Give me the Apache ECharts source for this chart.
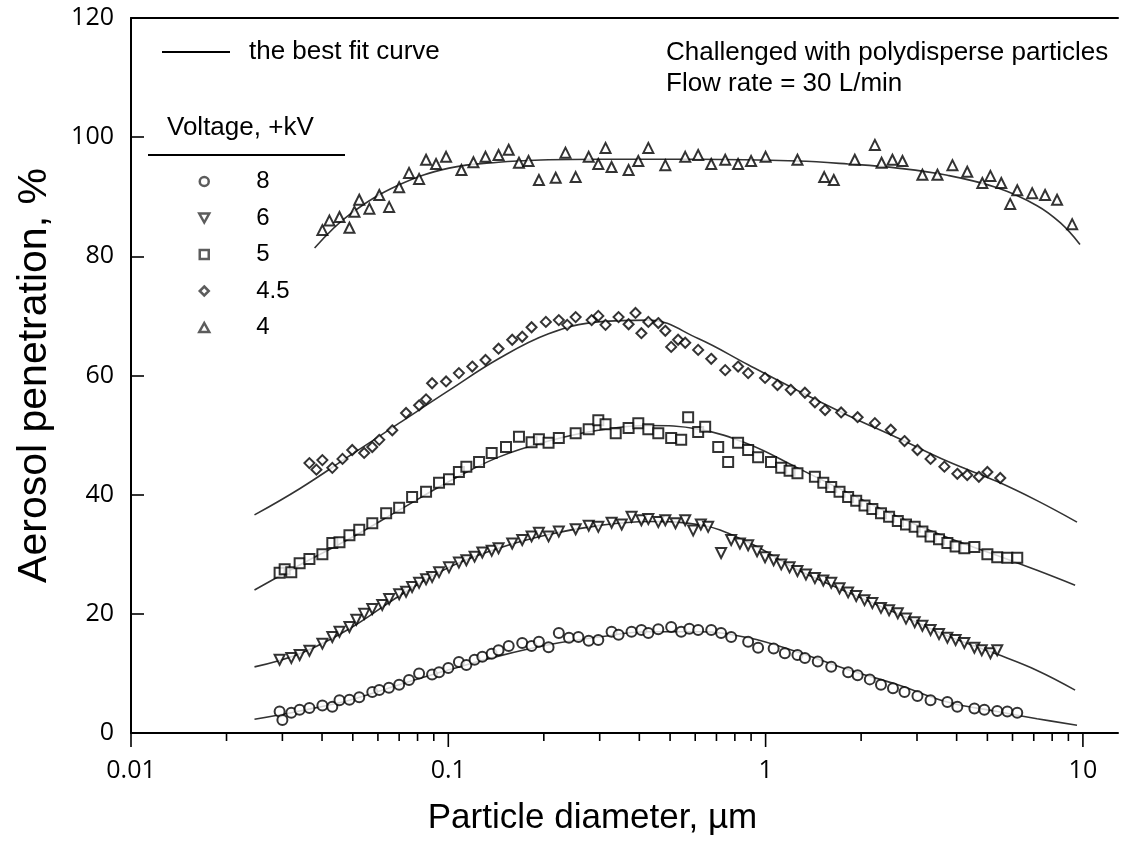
<!DOCTYPE html>
<html>
<head>
<meta charset="utf-8">
<script src="https://cdn.jsdelivr.net/npm/echarts@6/dist/echarts.min.js"></script>
<style>
html,body{margin:0;padding:0;background:#fff;overflow:hidden;}
#chart{width:1121px;height:861px;}
</style>
</head>
<body>
<div id="chart"></div>
<script>
// ---- data (particle diameter in µm, penetration in %) ----
const legendNames = ['8', '6', '5', '4.5', '4'];
const xTickLabels = ['0.01', '0.1', '1', '10'];
const xMajorTicks = [0.01, 0.1, 1, 10];
const xMinorTicks = [0.02,0.03,0.04,0.05,0.06,0.07,0.08,0.09,
                     0.2,0.3,0.4,0.5,0.6,0.7,0.8,0.9,
                     2,3,4,5,6,7,8,9];

const kv8 = [[0.0294,3.6],[0.0300,2.2],[0.0320,3.4],[0.0340,3.9],[0.0365,4.2],[0.0401,4.6],[0.0431,4.4],[0.0454,5.5],[0.0488,5.6],[0.0524,6.0],[0.0576,6.9],[0.0606,7.2],[0.0650,7.6],[0.0700,8.1],[0.0752,8.9],[0.0809,10.0],[0.0889,9.8],[0.0935,10.2],[0.100,10.9],[0.108,11.9],[0.114,11.4],[0.121,12.3],[0.128,12.8],[0.137,13.3],[0.144,13.9],[0.155,14.6],[0.171,15.1],[0.183,14.6],[0.193,15.3],[0.207,14.4],[0.223,16.8],[0.240,16.0],[0.257,16.1],[0.277,15.5],[0.297,15.6],[0.327,17.0],[0.344,16.5],[0.378,17.0],[0.406,17.3],[0.427,16.8],[0.459,17.4],[0.504,17.8],[0.542,17.0],[0.575,17.5],[0.613,17.3],[0.674,17.3],[0.724,16.8],[0.779,16.1],[0.881,15.3],[0.947,14.3],[1.06,14.2],[1.15,13.4],[1.26,13.1],[1.33,12.6],[1.46,12.0],[1.61,11.1],[1.82,10.2],[1.95,9.7],[2.13,9.0],[2.31,8.1],[2.52,7.5],[2.74,6.9],[3.01,6.2],[3.31,5.5],[3.74,5.2],[4.02,4.4],[4.55,4.1],[4.89,3.9],[5.37,3.7],[5.78,3.6],[6.21,3.4]];
const fit8 = [[0.0245,2.3],[0.034,3.7],[0.0488,5.5],[0.070,8.1],[0.1005,10.6],[0.144,12.9],[0.207,14.8],[0.297,16.1],[0.427,17.0],[0.613,17.0],[0.881,16.0],[1.26,13.6],[1.82,10.6],[2.61,8.1],[3.74,5.2],[5.37,3.6],[7.17,2.4],[9.58,1.3]];

const kv6 = [[0.0294,12.3],[0.0320,12.6],[0.034,13.1],[0.0365,13.8],[0.0401,15.0],[0.0431,16.1],[0.0454,17.0],[0.0488,17.8],[0.0513,19.0],[0.0543,20.0],[0.0576,20.8],[0.0619,21.5],[0.0651,22.5],[0.070,23.3],[0.0736,23.7],[0.0769,24.5],[0.0809,25.2],[0.0851,25.8],[0.0889,26.2],[0.0935,27.0],[0.1005,27.8],[0.108,28.6],[0.114,29.0],[0.121,29.6],[0.128,30.3],[0.137,30.6],[0.144,31.0],[0.159,31.8],[0.171,32.4],[0.183,33.0],[0.193,33.6],[0.207,33.0],[0.223,33.8],[0.252,34.2],[0.277,34.8],[0.297,34.6],[0.327,35.3],[0.352,35.0],[0.378,36.3],[0.406,35.7],[0.427,35.9],[0.459,35.4],[0.483,35.7],[0.520,35.2],[0.558,35.7],[0.591,34.0],[0.625,35.0],[0.659,34.6],[0.724,30.2],[0.779,32.4],[0.830,31.8],[0.881,31.5],[0.940,30.5],[0.996,29.5],[1.06,29.0],[1.12,28.3],[1.19,27.8],[1.26,27.2],[1.34,26.6],[1.43,26.0],[1.52,25.6],[1.61,25.2],[1.71,24.3],[1.82,23.6],[1.93,23.0],[2.05,22.3],[2.17,21.8],[2.31,21.0],[2.45,20.6],[2.61,20.1],[2.77,19.2],[2.95,18.6],[3.12,18.0],[3.31,17.3],[3.52,16.6],[3.74,16.0],[3.97,15.6],[4.23,15.1],[4.55,14.3],[4.80,13.9],[5.11,13.4],[5.37,13.9]];
const fit6 = [[0.0245,11.1],[0.034,13.3],[0.0488,17.5],[0.070,23.0],[0.1005,27.8],[0.144,31.0],[0.207,33.3],[0.297,34.8],[0.427,35.5],[0.613,35.0],[0.881,32.0],[1.26,27.4],[1.82,23.6],[2.61,20.0],[3.74,16.3],[5.37,13.2],[7.17,10.5],[9.45,7.2]];

const kv5 = [[0.0294,26.9],[0.0305,27.5],[0.0320,27.0],[0.034,28.5],[0.0365,29.2],[0.0401,30.0],[0.0431,31.9],[0.0454,32.0],[0.0488,33.2],[0.0524,34.1],[0.0576,35.2],[0.0637,36.9],[0.070,37.8],[0.0769,39.6],[0.0851,40.5],[0.0935,42.0],[0.1005,42.6],[0.108,43.8],[0.114,44.7],[0.125,45.5],[0.137,47.0],[0.152,48.0],[0.167,49.7],[0.183,48.8],[0.193,49.3],[0.207,48.7],[0.223,49.5],[0.252,50.3],[0.277,51.0],[0.297,52.5],[0.313,51.8],[0.337,50.3],[0.370,51.2],[0.397,52.0],[0.427,51.0],[0.459,50.3],[0.504,49.5],[0.542,49.2],[0.570,53.0],[0.613,50.5],[0.645,51.4],[0.709,48.0],[0.762,45.5],[0.819,48.7],[0.881,47.5],[0.947,46.3],[1.04,45.5],[1.12,44.5],[1.19,44.0],[1.26,43.6],[1.43,43.0],[1.52,42.0],[1.61,41.3],[1.71,40.5],[1.82,39.6],[1.93,39.0],[2.05,38.2],[2.17,37.6],[2.31,36.9],[2.45,36.3],[2.61,35.6],[2.77,35.0],[2.95,34.6],[3.12,33.8],[3.31,33.0],[3.52,32.5],[3.74,31.9],[3.97,31.3],[4.23,31.0],[4.55,31.2],[5.0,30.0],[5.37,29.5],[5.78,29.4],[6.21,29.4]];
const fit5 = [[0.0245,24.0],[0.034,28.2],[0.0488,32.6],[0.070,37.4],[0.1005,42.2],[0.144,46.3],[0.207,49.0],[0.297,50.8],[0.427,51.6],[0.613,51.0],[0.881,48.5],[1.26,44.5],[1.82,40.3],[2.61,36.3],[3.74,32.8],[5.37,29.8],[7.17,27.3],[9.45,24.8]];

const kv45 = [[0.0365,45.3],[0.0384,44.2],[0.0401,45.8],[0.0431,44.5],[0.0464,46.0],[0.0498,47.5],[0.0543,47.0],[0.0576,48.0],[0.0606,49.2],[0.0666,50.8],[0.0736,53.7],[0.0809,55.0],[0.0851,56.0],[0.0889,58.7],[0.0984,59.0],[0.108,60.4],[0.119,61.5],[0.131,62.6],[0.144,64.5],[0.159,66.0],[0.171,66.5],[0.183,68.1],[0.203,69.0],[0.223,69.3],[0.237,68.5],[0.252,69.8],[0.283,69.3],[0.297,70.0],[0.313,68.5],[0.344,69.8],[0.370,68.6],[0.389,70.5],[0.406,67.1],[0.427,69.0],[0.459,68.8],[0.483,67.5],[0.504,64.8],[0.530,66.0],[0.558,65.5],[0.613,64.3],[0.674,62.8],[0.746,60.9],[0.819,61.5],[0.881,60.4],[0.996,59.6],[1.09,58.4],[1.20,57.6],[1.33,57.1],[1.43,55.5],[1.54,54.2],[1.73,53.8],[1.95,53.0],[2.21,52.0],[2.48,50.9],[2.74,49.0],[3.01,47.5],[3.31,46.0],[3.66,44.7],[4.02,43.5],[4.32,43.3],[4.70,43.0],[5.0,43.8],[5.49,42.8]];
const fit45 = [[0.0245,36.6],[0.034,41.0],[0.0488,46.5],[0.070,52.0],[0.1005,57.5],[0.144,62.8],[0.207,67.0],[0.297,69.0],[0.427,69.3],[0.613,66.2],[0.881,61.8],[1.26,57.5],[1.82,53.3],[2.61,49.5],[3.74,45.6],[5.37,42.2],[7.17,39.0],[9.58,35.4]];

const kv4 = [[0.0401,84.4],[0.0422,86.0],[0.0454,86.6],[0.0488,84.8],[0.0506,87.5],[0.0524,89.5],[0.0564,88.0],[0.0606,90.3],[0.0651,88.3],[0.070,91.6],[0.0752,94.0],[0.0809,93.0],[0.0851,96.2],[0.0915,95.5],[0.0984,96.7],[0.110,94.5],[0.120,95.8],[0.131,96.7],[0.144,97.0],[0.155,97.9],[0.167,95.7],[0.179,96.0],[0.193,92.8],[0.218,93.2],[0.234,97.4],[0.252,93.3],[0.277,96.7],[0.297,95.5],[0.313,98.2],[0.327,95.0],[0.370,94.5],[0.397,96.0],[0.427,98.2],[0.483,95.3],[0.558,96.7],[0.613,97.0],[0.674,95.5],[0.746,96.2],[0.819,95.5],[0.900,96.0],[1.00,96.7],[1.26,96.2],[1.53,93.3],[1.64,92.8],[1.91,96.2],[2.21,98.7],[2.32,95.7],[2.51,96.2],[2.70,96.0],[3.12,93.7],[3.48,93.7],[3.88,95.3],[4.32,94.2],[4.82,92.3],[5.11,93.5],[5.53,92.3],[5.90,88.8],[6.21,91.1],[6.92,90.6],[7.60,90.3],[8.29,89.5],[9.25,85.4]];
const fit4 = [[0.0379,81.4],[0.0488,87.0],[0.070,92.0],[0.1005,94.8],[0.144,95.8],[0.207,96.2],[0.297,96.3],[0.613,96.3],[1.26,96.0],[1.82,95.5],[2.61,94.8],[3.74,93.6],[5.37,91.5],[7.17,88.5],[8.5,85.6],[9.79,82.0]];

const noteLines = ['Challenged with polydisperse particles', 'Flow rate = 30 L/min'];
const fitName = 'the best fit curve';

// ---- chart ----
const chart = echarts.init(document.getElementById('chart'), null, {renderer: 'canvas'});
const titleFont = 'Liberation Sans';
const tickFont = 'Open Sans';

const markerStyle = {color: '#ffffff', borderColor: '#000000', borderWidth: 2};
function scatter(name, data, symbol, rotate) {
  return {
    name: name, type: 'scatter', data: data, symbol: symbol, symbolSize: 10,
    symbolRotate: rotate || 0, symbolKeepAspect: true,
    itemStyle: markerStyle, z: 5, silent: true
  };
}
function fit(data) {
  return {
    name: fitName, type: 'line', data: data, smooth: 0.4, symbol: 'none',
    lineStyle: {color: '#333333', width: 1.6}, z: 3, silent: true
  };
}
function tickSeries(values, len) {
  return {
    type: 'custom', coordinateSystem: 'cartesian2d',
    data: values.map(function (v) { return [v, 0]; }),
    clip: false, silent: true, z: 10,
    renderItem: function (params, api) {
      const p = api.coord([api.value(0), 0]);
      return {type: 'line', shape: {x1: p[0], y1: p[1], x2: p[0], y2: p[1] + len},
              style: {stroke: '#000', lineWidth: 1.6}};
    }
  };
}

const legendIcons = [
  'circle',
  'path://M0,0 L10,0 L5,9 Z',
  'path://M0,0 L10,0 L10,10 L0,10 Z',
  'path://M5,0 L10,5 L5,10 L0,5 Z',
  'path://M5,0 L10,9 L0,9 Z'
];

const option = {
  animation: false,
  backgroundColor: '#ffffff',
  grid: {left: 131, top: 18, right: 0, bottom: 128, containLabel: false},
  xAxis: [{
    type: 'log', logBase: 10, min: 0.01, max: 12.9,
    name: 'Particle diameter, µm', nameLocation: 'middle', nameGap: 68,
    nameTextStyle: {fontFamily: titleFont, fontSize: 35, color: '#000', padding: [0, 64, 0, 0]},
    axisLine: {onZero: false, lineStyle: {color: '#000', width: 2}},
    axisTick: {show: false},
    axisLabel: {
      margin: 25, fontFamily: tickFont, fontSize: 25, color: '#000',
      formatter: function (v) {
        for (let i = 0; i < xMajorTicks.length; i++) {
          if (Math.abs(Math.log10(v) - Math.log10(xMajorTicks[i])) < 1e-6) return xTickLabels[i];
        }
        return '';
      }
    },
    splitLine: {show: false}, minorTick: {show: false}
  }, {
    type: 'value', position: 'top', min: 0, max: 1,
    axisLine: {show: true, onZero: false, lineStyle: {color: '#000', width: 2}},
    axisTick: {show: false}, axisLabel: {show: false}, splitLine: {show: false}
  }],
  yAxis: {
    type: 'value', min: 0, max: 120, interval: 20,
    name: 'Aerosol penetration, %', nameLocation: 'middle', nameGap: 76,
    nameTextStyle: {fontFamily: titleFont, fontSize: 41, color: '#000'},
    axisLine: {show: true, onZero: false, lineStyle: {color: '#000', width: 2}},
    axisTick: {show: true, inside: true, length: 13, lineStyle: {color: '#000', width: 1.6}},
    axisLabel: {margin: 17, fontFamily: tickFont, fontSize: 25, color: '#000'},
    splitLine: {show: false}
  },
  legend: {
    data: legendNames.map(function (n, i) { return {name: n, icon: legendIcons[i]}; }),
    left: 193, top: 163.5, orient: 'vertical',
    itemWidth: 94, itemHeight: 9, itemGap: 10.5, selectedMode: false,
    symbolKeepAspect: true,
    itemStyle: {color: '#ffffff', borderColor: '#333', borderWidth: 2.5},
    textStyle: {fontFamily: titleFont, fontSize: 24, color: '#000', lineHeight: 26}
  },
  graphic: [
    {type: 'line', shape: {x1: 162, y1: 52, x2: 230, y2: 52}, style: {stroke: '#000', lineWidth: 2}},
    {type: 'text', x: 249, y: 52, style: {text: fitName, fontFamily: titleFont, fontSize: 26, fill: '#000', verticalAlign: 'middle'}},
    {type: 'text', x: 167, y: 128, style: {text: 'Voltage, +kV', fontFamily: titleFont, fontSize: 26, fill: '#000', verticalAlign: 'middle'}},
    {type: 'line', shape: {x1: 148, y1: 155, x2: 345, y2: 155}, style: {stroke: '#000', lineWidth: 2}},
    {type: 'text', x: 666, y: 53, style: {text: noteLines[0], fontFamily: titleFont, fontSize: 26, fill: '#000', verticalAlign: 'middle'}},
    {type: 'text', x: 666, y: 84, style: {text: noteLines[1], fontFamily: titleFont, fontSize: 26, fill: '#000', verticalAlign: 'middle'}}
  ],
  series: [
    fit(fit8), fit(fit6), fit(fit5), fit(fit45), fit(fit4),
    scatter('8', kv8, 'circle'),
    scatter('6', kv6, 'triangle', 180),
    scatter('5', kv5, 'rect'),
    scatter('4.5', kv45, 'diamond'),
    scatter('4', kv4, 'triangle'),
    tickSeries(xMinorTicks, 8),
    tickSeries(xMajorTicks, 14)
  ]
};
chart.setOption(option);
</script>
</body>
</html>
